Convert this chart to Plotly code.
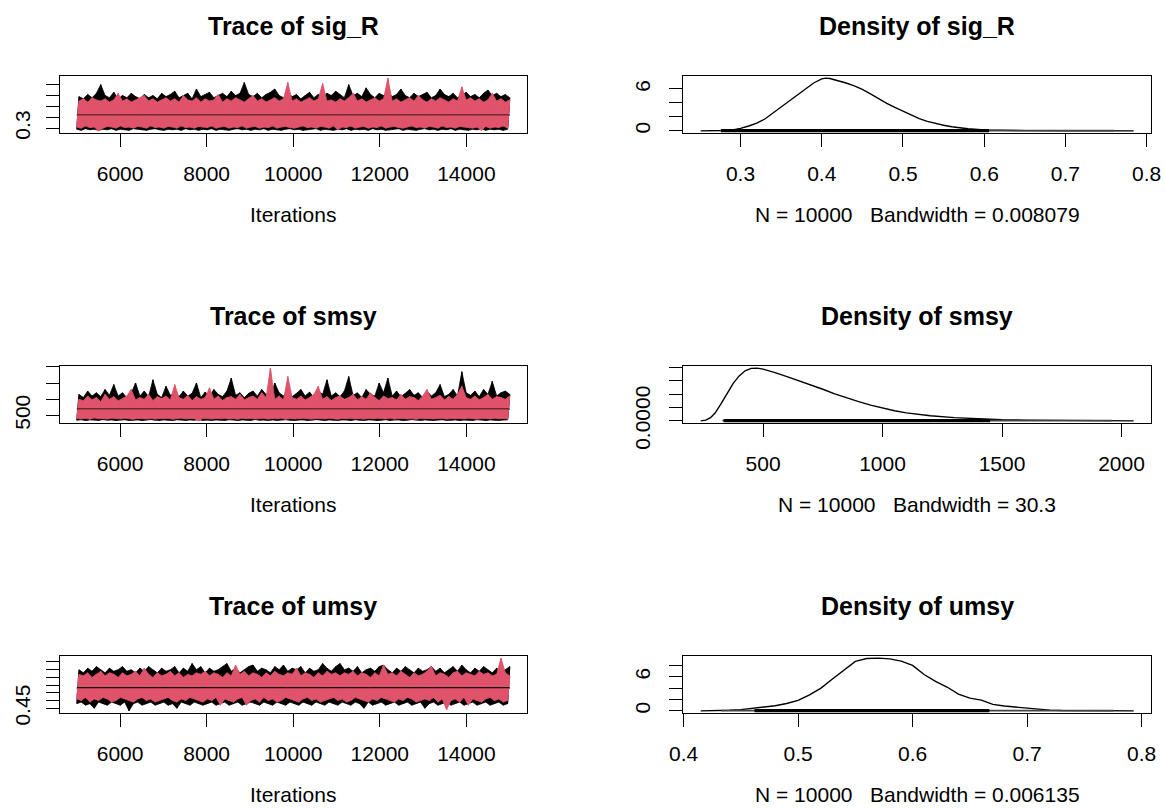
import numpy as np
import plotly.graph_objects as go

RED = "#DF536B"
FONT = "Liberation Sans, Arial, Helvetica, sans-serif"
W, H = 1165, 808

# ---------------- data ----------------
params = ["sig_R", "smsy", "umsy"]
bandwidth_text = ["0.008079", "30.3", "0.006135"]
n_iter = 10000
iter_first, iter_last = 5001, 15000

# sampled trace values (lower / upper swing of each chain), chain 1 = black, chain 2 = red
sigR_c1_lo = [0.29,0.28,0.295,0.285,0.29,0.28,0.29,0.285,0.295,0.28,
              0.29,0.285,0.28,0.295,0.29,0.285,0.28,0.29,0.295,0.285,
              0.28,0.29,0.285,0.29,0.28,0.295,0.285,0.29,0.28,0.29,
              0.285,0.295,0.28,0.29,0.285,0.28,0.29,0.295,0.285,0.29,
              0.28,0.29,0.285,0.295,0.28,0.29,0.285,0.28,0.29,0.295,
              0.285,0.29,0.28,0.285,0.29,0.295,0.28,0.29,0.285,0.28,
              0.29,0.285,0.295,0.28,0.29,0.285,0.29,0.28,0.295,0.285,
              0.29,0.28,0.285,0.29,0.295,0.28,0.29,0.285,0.28,0.29,
              0.295,0.285,0.29,0.28,0.29,0.285,0.295,0.28,0.29,0.285,
              0.28,0.29,0.285,0.295,0.28,0.29,0.285,0.29,0.28,0.29]
sigR_c1_hi = [0.59,0.57,0.61,0.58,0.62,0.70,0.60,0.58,0.63,0.57,
              0.60,0.58,0.62,0.59,0.57,0.61,0.58,0.60,0.57,0.62,
              0.59,0.61,0.64,0.58,0.60,0.62,0.57,0.66,0.59,0.61,
              0.63,0.58,0.60,0.62,0.59,0.64,0.60,0.62,0.72,0.61,
              0.59,0.62,0.58,0.61,0.63,0.66,0.60,0.58,0.62,0.59,
              0.61,0.57,0.60,0.63,0.58,0.61,0.59,0.62,0.60,0.64,
              0.61,0.58,0.70,0.60,0.62,0.59,0.67,0.61,0.58,0.62,
              0.60,0.63,0.59,0.61,0.66,0.60,0.58,0.62,0.59,0.61,
              0.63,0.58,0.60,0.66,0.61,0.59,0.62,0.58,0.60,0.63,
              0.59,0.61,0.58,0.62,0.65,0.60,0.62,0.59,0.61,0.58]
sigR_c2_lo = [0.31,0.30,0.32,0.305,0.31,0.275,0.30,0.315,0.31,0.30,
              0.32,0.305,0.31,0.30,0.315,0.31,0.30,0.32,0.305,0.31,
              0.30,0.315,0.31,0.30,0.32,0.305,0.31,0.30,0.315,0.31,
              0.305,0.32,0.30,0.31,0.315,0.30,0.31,0.305,0.32,0.30,
              0.31,0.315,0.30,0.31,0.305,0.32,0.30,0.31,0.315,0.305,
              0.30,0.31,0.32,0.305,0.31,0.30,0.315,0.31,0.30,0.32,
              0.285,0.31,0.305,0.32,0.30,0.31,0.315,0.30,0.31,0.305,
              0.32,0.30,0.31,0.315,0.305,0.30,0.31,0.32,0.305,0.31,
              0.30,0.315,0.31,0.30,0.32,0.305,0.31,0.30,0.315,0.31,
              0.305,0.30,0.31,0.28,0.315,0.30,0.31,0.305,0.32,0.30]
sigR_c2_hi = [0.55,0.57,0.54,0.58,0.56,0.55,0.57,0.54,0.56,0.62,
              0.55,0.57,0.54,0.56,0.58,0.60,0.55,0.57,0.54,0.56,
              0.58,0.55,0.57,0.54,0.60,0.56,0.55,0.58,0.54,0.57,
              0.55,0.56,0.61,0.54,0.57,0.55,0.58,0.56,0.54,0.57,
              0.60,0.55,0.57,0.54,0.56,0.58,0.55,0.57,0.72,0.55,
              0.57,0.54,0.56,0.58,0.55,0.57,0.71,0.55,0.56,0.54,
              0.57,0.55,0.58,0.62,0.55,0.57,0.54,0.56,0.58,0.55,
              0.57,0.76,0.55,0.57,0.54,0.56,0.58,0.55,0.60,0.56,
              0.54,0.57,0.55,0.58,0.56,0.54,0.57,0.55,0.68,0.56,
              0.58,0.55,0.57,0.54,0.56,0.62,0.55,0.57,0.54,0.56]

smsy_c1_lo = [350,365,340,360,355,345,370,350,360,340,
              355,365,345,350,360,340,355,370,350,345,
              360,350,340,365,355,345,360,350,370,345,
              355,340,360,350,345,365,355,340,360,350,
              345,370,350,355,340,360,345,355,365,350,
              340,355,360,345,350,370,355,340,360,350,
              345,360,355,340,365,350,345,360,355,340,
              350,365,345,355,360,340,350,370,355,345,
              360,350,340,355,365,345,350,360,340,355,
              350,345,365,355,340,360,350,345,355,360]
smsy_c1_hi = [1150,1050,1250,1100,1200,1080,1300,1120,1450,1100,
              1200,1050,1180,1500,1100,1250,1080,1600,1150,1050,
              1400,1120,1200,1080,1250,1100,1180,1500,1050,1220,
              1100,1300,1150,1080,1250,1650,1120,1200,1050,1180,
              1250,1100,1300,1150,1080,1500,1200,1100,1250,1080,
              1180,1300,1100,1220,1050,1250,1150,1600,1100,1200,
              1080,1250,1700,1120,1200,1050,1300,1150,1100,1500,
              1200,1650,1100,1250,1080,1180,1300,1120,1200,1050,
              1250,1100,1200,1450,1080,1150,1300,1100,1850,1200,
              1120,1250,1080,1300,1150,1550,1100,1200,1250,1150]
smsy_c2_lo = [400,390,410,380,420,395,405,385,410,400,
              390,415,395,380,405,400,390,410,385,400,
              395,410,380,400,415,390,405,395,330,410,
              400,385,405,395,410,390,400,380,415,395,
              405,390,400,410,385,400,395,415,380,405,
              390,400,410,395,385,405,400,390,410,395,
              380,405,395,410,390,400,385,405,395,410,
              400,390,415,385,400,405,390,400,380,410,
              395,405,390,400,410,385,400,395,405,390,
              410,395,385,400,405,390,410,395,400,385]
smsy_c2_hi = [1000,950,1100,980,1050,920,1150,1000,1080,950,
              1020,1100,1300,980,1050,1000,1150,960,1080,1020,
              1100,980,1450,1050,1000,1120,960,1080,1000,1050,
              1350,1000,1100,960,1050,1080,1000,1150,980,1050,
              1100,1000,1200,1050,1960,1000,1100,980,1700,1050,
              1000,1100,980,1050,1150,1400,1000,1080,960,1050,
              1100,1000,1050,1150,980,1080,1000,1200,1050,960,
              1100,1020,1050,980,1150,1000,1080,1050,960,1100,
              1300,1000,1050,1120,980,1080,1000,1150,1400,1050,
              1000,1100,980,1050,1150,1000,1080,1050,1000,1100]

umsy_c1_lo = [0.48,0.49,0.47,0.48,0.45,0.49,0.48,0.47,0.49,0.48,
              0.47,0.49,0.433,0.48,0.49,0.47,0.48,0.49,0.47,0.48,
              0.49,0.47,0.48,0.45,0.49,0.48,0.47,0.49,0.48,0.47,
              0.48,0.49,0.47,0.48,0.49,0.47,0.48,0.49,0.47,0.48,
              0.49,0.48,0.47,0.49,0.48,0.47,0.49,0.48,0.47,0.49,
              0.48,0.47,0.49,0.48,0.47,0.49,0.48,0.47,0.49,0.48,
              0.47,0.49,0.48,0.47,0.49,0.48,0.45,0.49,0.47,0.48,
              0.49,0.47,0.48,0.49,0.47,0.48,0.49,0.47,0.48,0.49,
              0.45,0.48,0.49,0.47,0.48,0.49,0.47,0.48,0.49,0.47,
              0.48,0.49,0.47,0.48,0.49,0.47,0.48,0.49,0.47,0.48]
umsy_c1_hi = [0.70,0.68,0.71,0.69,0.72,0.70,0.68,0.71,0.69,0.70,
              0.72,0.69,0.70,0.68,0.71,0.69,0.72,0.70,0.68,0.71,
              0.69,0.70,0.72,0.68,0.71,0.69,0.74,0.70,0.72,0.68,
              0.71,0.69,0.70,0.72,0.74,0.69,0.71,0.68,0.70,0.72,
              0.73,0.69,0.71,0.70,0.68,0.72,0.70,0.73,0.69,0.71,
              0.70,0.72,0.68,0.71,0.69,0.70,0.74,0.71,0.69,0.72,
              0.74,0.70,0.71,0.69,0.72,0.68,0.70,0.71,0.69,0.72,
              0.73,0.70,0.68,0.71,0.69,0.72,0.70,0.68,0.71,0.69,
              0.70,0.72,0.69,0.71,0.68,0.70,0.72,0.69,0.73,0.70,
              0.68,0.71,0.69,0.72,0.70,0.68,0.71,0.69,0.70,0.72]
umsy_c2_lo = [0.51,0.50,0.52,0.49,0.51,0.50,0.52,0.51,0.49,0.50,
              0.52,0.51,0.50,0.49,0.51,0.52,0.50,0.51,0.49,0.50,
              0.51,0.52,0.50,0.49,0.51,0.50,0.52,0.51,0.50,0.49,
              0.51,0.50,0.52,0.47,0.51,0.50,0.49,0.51,0.52,0.47,
              0.50,0.51,0.49,0.52,0.50,0.51,0.49,0.50,0.52,0.51,
              0.50,0.49,0.51,0.52,0.50,0.51,0.49,0.50,0.51,0.52,
              0.50,0.51,0.49,0.50,0.52,0.51,0.50,0.49,0.51,0.50,
              0.52,0.51,0.50,0.49,0.51,0.50,0.52,0.51,0.49,0.50,
              0.51,0.50,0.52,0.49,0.51,0.44,0.50,0.51,0.49,0.52,
              0.47,0.51,0.50,0.49,0.51,0.52,0.50,0.51,0.49,0.50]
umsy_c2_hi = [0.67,0.66,0.68,0.65,0.67,0.69,0.66,0.68,0.67,0.65,
              0.68,0.66,0.67,0.69,0.66,0.71,0.67,0.65,0.68,0.66,
              0.67,0.69,0.66,0.68,0.65,0.67,0.66,0.68,0.67,0.69,
              0.66,0.68,0.67,0.65,0.68,0.66,0.73,0.67,0.69,0.66,
              0.68,0.67,0.65,0.68,0.66,0.69,0.67,0.66,0.68,0.67,
              0.71,0.66,0.68,0.67,0.65,0.68,0.66,0.69,0.67,0.68,
              0.66,0.68,0.67,0.69,0.66,0.68,0.67,0.65,0.68,0.66,
              0.73,0.67,0.68,0.66,0.69,0.67,0.65,0.68,0.66,0.67,
              0.69,0.72,0.66,0.68,0.67,0.65,0.68,0.69,0.66,0.68,
              0.67,0.66,0.69,0.67,0.68,0.66,0.67,0.775,0.68,0.66]

# running-mean (smooth) level of each chain
sigR_smooth = [[0.419, 0.418, 0.419], [0.417, 0.418, 0.417]]
smsy_smooth = [[690, 695, 690], [680, 685, 680]]
umsy_smooth = [[0.582, 0.583, 0.582], [0.579, 0.580, 0.579]]

# kernel density curves
sigR_dens_x = [0.251,0.27,0.28,0.29,0.30,0.31,0.32,0.33,0.34,0.35,0.36,0.37,0.38,0.39,0.40,0.405,
               0.41,0.42,0.43,0.44,0.45,0.46,0.47,0.48,0.49,0.50,0.51,0.52,0.53,0.54,0.55,0.56,
               0.57,0.58,0.60,0.62,0.65,0.70,0.75,0.784]
sigR_dens_y = [0.0,0.02,0.06,0.15,0.35,0.7,1.1,1.7,2.55,3.45,4.3,5.2,6.0,6.85,7.45,7.55,
               7.5,7.2,6.85,6.45,5.95,5.3,4.6,3.95,3.35,2.8,2.25,1.75,1.35,1.05,0.8,0.6,
               0.42,0.3,0.13,0.07,0.035,0.015,0.005,0.0]
smsy_dens_x = [239,260,280,300,325,350,375,400,425,450,475,500,525,550,600,650,700,750,800,
               850,900,950,1000,1050,1100,1200,1300,1400,1500,1600,1700,1800,1900,2000,2051]
smsy_dens_y = [0.0,0.00003,0.00012,0.0003,0.00065,0.00105,0.0014,0.00168,0.00187,0.00196,
               0.00197,0.00193,0.00187,0.0018,0.00165,0.0015,0.00134,0.00118,0.00101,
               0.00086,0.00072,0.00059,0.00048,0.00038,0.0003,0.00019,0.00012,0.000075,
               0.000045,0.000028,0.000017,0.00001,0.000006,0.000003,0.0]
umsy_dens_x = [0.415,0.43,0.44,0.45,0.46,0.47,0.48,0.49,0.50,0.51,0.52,0.53,0.54,0.55,0.56,
               0.57,0.58,0.59,0.60,0.61,0.62,0.63,0.64,0.65,0.66,0.67,0.68,0.69,0.70,0.71,
               0.72,0.73,0.75,0.77,0.793]
umsy_dens_y = [0.0,0.03,0.1,0.22,0.42,0.65,0.9,1.3,1.85,2.8,4.0,5.6,7.2,8.7,9.2,
               9.28,9.15,8.75,8.0,6.4,5.2,4.2,2.95,2.25,1.9,1.15,0.85,0.65,0.45,0.3,
               0.14,0.08,0.03,0.01,0.0]

# extent of the observation rug (dense part, sparse tails)
sigR_rug = [[0.276, 0.606], [0.275, 0.76]]
smsy_rug = [[335, 1450], [330, 1960]]
umsy_rug = [[0.462, 0.667], [0.433, 0.775]]

# axis ticks
trace_xticks = [6000, 8000, 10000, 12000, 14000]
trace_yticks = [[0.3, 0.4, 0.5, 0.6, 0.7], [500, 1000, 1500, 2000],
                [0.45, 0.50, 0.55, 0.60, 0.65, 0.70, 0.75]]
trace_ylabels = [["0.3", "", "", "", ""], ["500", "", "", ""],
                 ["0.45", "", "", "", "", "", ""]]
dens_xticks = [[0.3, 0.4, 0.5, 0.6, 0.7, 0.8], [500, 1000, 1500, 2000], [0.4, 0.5, 0.6, 0.7, 0.8]]
dens_xlabels = [["0.3", "0.4", "0.5", "0.6", "0.7", "0.8"], ["500", "1000", "1500", "2000"],
                ["0.4", "0.5", "0.6", "0.7", "0.8"]]
dens_yticks = [[0, 2, 4, 6], [0, 0.0005, 0.001, 0.0015, 0.002], [0, 2, 4, 6, 8]]
dens_ylabels = [["0", "", "", "6"], ["0.0000", "", "", "", ""], ["0", "", "", "6", ""]]

chains = [[(sigR_c1_lo, sigR_c1_hi), (sigR_c2_lo, sigR_c2_hi)],
          [(smsy_c1_lo, smsy_c1_hi), (smsy_c2_lo, smsy_c2_hi)],
          [(umsy_c1_lo, umsy_c1_hi), (umsy_c2_lo, umsy_c2_hi)]]
smooths = [sigR_smooth, smsy_smooth, umsy_smooth]
dens = [(sigR_dens_x, sigR_dens_y), (smsy_dens_x, smsy_dens_y), (umsy_dens_x, umsy_dens_y)]
rugs = [sigR_rug, smsy_rug, umsy_rug]

# ---------------- layout geometry (pixels) ----------------
LEFT_BOX = (59.5, 527.0)
RIGHT_BOX = (683.4, 1151.0)
ROW_STEP = 290
BOX_TOP, BOX_BOT = 76, 133
TITLE_Y, XLAB_Y = 26, 214


def expand(lo, hi, f=0.04):
    r = hi - lo
    return [lo - f * r, hi + f * r]


fig = go.Figure()
layout = dict(width=W, height=H, margin=dict(l=0, r=0, t=0, b=0, autoexpand=False),
              paper_bgcolor="white", plot_bgcolor="white", showlegend=False,
              font=dict(family=FONT, color="black"))
annotations = []

axis_style = dict(showline=True, linecolor="black", linewidth=1, mirror=True,
                  ticks="outside", ticklen=13, tickwidth=1, tickcolor="black",
                  showgrid=False, zeroline=False, automargin=False,
                  tickfont=dict(family=FONT, size=21, color="black"))

for k, name in enumerate(params):
    top = BOX_TOP + k * ROW_STEP
    bot = BOX_BOT + k * ROW_STEP
    ydom = [1 - bot / H, 1 - top / H]
    ia = 2 * k + 1   # trace axes
    ib = 2 * k + 2   # density axes

    # ----- trace: each chain drawn as its swing between sampled lows and highs -----
    allv = []
    for ci, (lo, hi) in enumerate(chains[k]):
        col = "black" if ci == 0 else RED
        vals = np.ravel(np.column_stack([lo, hi]))
        allv.extend(vals)
        its = np.linspace(iter_first, iter_last, len(vals))
        its_lo, its_hi = its[0::2], its[1::2]
        fig.add_trace(go.Scatter(x=np.concatenate([its_hi, its_lo[::-1]]),
                                 y=np.concatenate([np.array(hi), np.array(lo)[::-1]]),
                                 mode="lines", fill="toself", fillcolor=col,
                                 line=dict(color=col, width=0.8, simplify=False),
                                 xaxis=f"x{ia}", yaxis=f"y{ia}", hoverinfo="skip"))
        fig.add_trace(go.Scatter(x=its, y=vals, mode="lines",
                                 line=dict(color=col, width=1.2, simplify=False),
                                 xaxis=f"x{ia}", yaxis=f"y{ia}", hoverinfo="skip"))
    for ci, sm in enumerate(smooths[k]):
        its = np.linspace(iter_first, iter_last, len(sm))
        fig.add_trace(go.Scatter(x=its, y=sm, mode="lines",
                                 line=dict(color="black" if ci == 0 else RED,
                                           width=1.6 if ci == 0 else 0.8),
                                 xaxis=f"x{ia}", yaxis=f"y{ia}", hoverinfo="skip"))
    yr = expand(min(allv), max(allv))
    xr = expand(iter_first, iter_last)
    layout[f"xaxis{ia}"] = dict(axis_style, domain=[LEFT_BOX[0] / W, LEFT_BOX[1] / W],
                                range=xr, anchor=f"y{ia}", tickvals=trace_xticks,
                                ticktext=[str(t) for t in trace_xticks], ticklabelstandoff=9)
    layout[f"yaxis{ia}"] = dict(axis_style, domain=ydom, range=yr, anchor=f"x{ia}",
                                tickvals=trace_yticks[k], ticktext=trace_ylabels[k],
                                tickangle=-90, ticklabelstandoff=7)

    # ----- density -----
    dx, dy = dens[k]
    fig.add_trace(go.Scatter(x=dx, y=dy, mode="lines", line=dict(color="black", width=1.4),
                             xaxis=f"x{ib}", yaxis=f"y{ib}", hoverinfo="skip"))
    dmax = max(dy)
    (d_lo, d_hi), (s_lo, s_hi) = rugs[k]
    fig.add_trace(go.Scatter(x=[s_lo, s_hi], y=[dmax / 200, dmax / 200], mode="lines",
                             line=dict(color="#444444", width=1.6),
                             xaxis=f"x{ib}", yaxis=f"y{ib}", hoverinfo="skip"))
    fig.add_trace(go.Scatter(x=[d_lo, d_hi], y=[dmax / 200, dmax / 200], mode="lines",
                             line=dict(color="black", width=3.2),
                             xaxis=f"x{ib}", yaxis=f"y{ib}", hoverinfo="skip"))
    layout[f"xaxis{ib}"] = dict(axis_style, domain=[RIGHT_BOX[0] / W, RIGHT_BOX[1] / W],
                                range=expand(dx[0], dx[-1]), anchor=f"y{ib}",
                                tickvals=dens_xticks[k], ticktext=dens_xlabels[k],
                                ticklabelstandoff=9)
    layout[f"yaxis{ib}"] = dict(axis_style, domain=ydom, range=[-0.04 * dmax, 1.04 * dmax],
                                anchor=f"x{ib}", tickvals=dens_yticks[k],
                                ticktext=dens_ylabels[k], tickangle=-90, ticklabelstandoff=11)

    # ----- titles and axis captions -----
    cx_l = (LEFT_BOX[0] + LEFT_BOX[1]) / 2 / W
    cx_r = (RIGHT_BOX[0] + RIGHT_BOX[1]) / 2 / W
    ty = 1 - (TITLE_Y + k * ROW_STEP) / H
    xy = 1 - (XLAB_Y + k * ROW_STEP) / H
    annotations.append(dict(text=f"<b>Trace of {name}</b>", x=cx_l, y=ty, xref="paper",
                            yref="paper", showarrow=False, xanchor="center", yanchor="middle",
                            font=dict(family=FONT, size=25, color="black")))
    annotations.append(dict(text=f"<b>Density of {name}</b>", x=cx_r, y=ty, xref="paper",
                            yref="paper", showarrow=False, xanchor="center", yanchor="middle",
                            font=dict(family=FONT, size=25, color="black")))
    annotations.append(dict(text="Iterations", x=cx_l, y=xy, xref="paper", yref="paper",
                            showarrow=False, xanchor="center", yanchor="middle",
                            font=dict(family=FONT, size=21, color="black")))
    annotations.append(dict(text=f"N = {n_iter}\u00a0\u00a0 Bandwidth = {bandwidth_text[k]}",
                            x=cx_r, y=xy, xref="paper", yref="paper", showarrow=False,
                            xanchor="center", yanchor="middle",
                            font=dict(family=FONT, size=21, color="black")))

layout["annotations"] = annotations
fig.update_layout(**layout)
fig.write_html("out.html", config={"displayModeBar": False},
               post_script="document.body.style.margin='0';document.body.style.overflow='hidden';")
